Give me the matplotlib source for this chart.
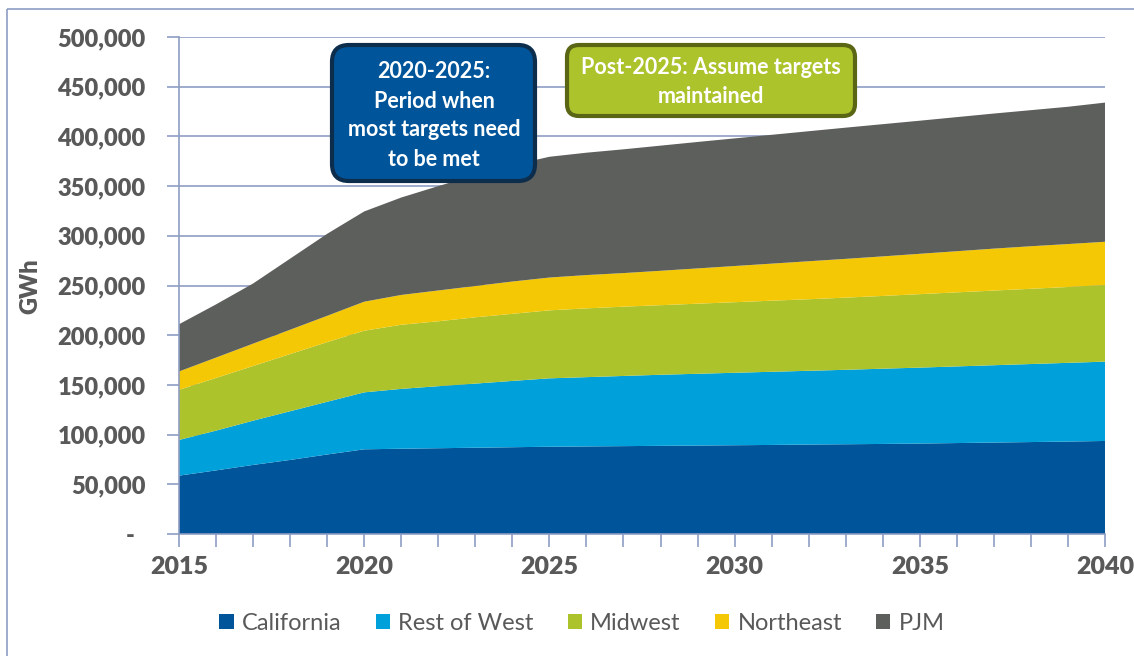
import matplotlib
matplotlib.use('Agg')
import matplotlib.pyplot as plt
from matplotlib.patches import FancyBboxPatch, Rectangle, Patch

plt.rcParams['font.family'] = ['Lato', 'DejaVu Sans']

# GWh by region
years = list(range(2015, 2041))
california = [58700, 64000, 69500, 74500, 80000, 85200, 85800, 86300, 86800, 87300,
              87800, 88100, 88400, 88700, 89000, 89300, 89600, 90000, 90300, 90600,
              91000, 91500, 92000, 92500, 93000, 93600]
rest_of_west = [35900, 40000, 44500, 49000, 53000, 57300, 60200, 62400, 64500, 66700,
                68800, 69700, 70600, 71500, 72200, 72900, 73600, 74200, 74900, 75700,
                76400, 77100, 77800, 78500, 79200, 79800]
midwest = [50400, 53000, 55000, 57500, 60000, 62000, 64500, 65300, 66700, 67500,
           68400, 69200, 69700, 70000, 70500, 71000, 71500, 72000, 72600, 73200,
           73900, 74500, 75100, 75700, 76300, 77100]
northeast = [18500, 20500, 22500, 24500, 26500, 29200, 30000, 31000, 31500, 32500,
             33000, 33500, 33800, 34600, 35500, 36400, 37300, 38200, 39000, 39800,
             40600, 41400, 42200, 42800, 43200, 43500]
pjm = [47500, 53500, 60500, 71500, 82500, 90800, 98000, 105000, 111500, 117000,
       121500, 123100, 124500, 125900, 127200, 128400, 129600, 130800, 132000, 133000,
       133900, 134900, 135900, 136900, 138100, 140000]
regions = ['California', 'Rest of West', 'Midwest', 'Northeast', 'PJM']
colors = ['#00559A', '#00A0DA', '#ADC32C', '#F4C805', '#5D5F5C']

grid_col = '#8E9DC2'
txt_col = '#595959'

fig = plt.figure(figsize=(11.34, 6.56), dpi=100)
ax = fig.add_axes([179/1134, 1-534/656, (1105-179)/1134, (534-37)/656])

ax.stackplot(years, california, rest_of_west, midwest, northeast, pjm,
             colors=colors, linewidth=0)

ax.set_xlim(2015, 2040)
ax.set_ylim(0, 500000)
ax.set_axisbelow(True)
ax.grid(axis='y', color=grid_col, linewidth=1.2)

yt = list(range(0, 500001, 50000))
ax.set_yticks(yt)
ax.set_yticklabels(['-  '] + ['{:,}'.format(v) for v in yt[1:]])
ax.set_xticks(years)
ax.set_xticklabels([str(y) if y % 5 == 0 else '' for y in years])

for s in ['top', 'right']:
    ax.spines[s].set_visible(False)
for s in ['left', 'bottom']:
    ax.spines[s].set_color(grid_col)
    ax.spines[s].set_linewidth(1.2)

ax.tick_params(axis='y', direction='out', length=9, width=1.2, color=grid_col,
               labelcolor=txt_col, labelsize=17, pad=15)
ax.tick_params(axis='x', direction='out', length=9, width=1.2, color=grid_col,
               labelcolor=txt_col, labelsize=18, pad=7)
for lab in ax.get_xticklabels() + ax.get_yticklabels():
    lab.set_fontweight('heavy')

fig.text(30/1134, 1-286/656, 'GWh', rotation=90, ha='center', va='center',
         fontsize=17, fontweight='heavy', color=txt_col)

# overlay in pixel coords for the frame and callout boxes
ov = fig.add_axes([0, 0, 1, 1], zorder=5)
ov.set_xlim(0, 1134)
ov.set_ylim(656, 0)
ov.axis('off')
ov.patch.set_alpha(0)

ov.add_patch(Rectangle((7, 9), 1140, 660, fill=False, edgecolor=grid_col, linewidth=1.2))

ov.add_patch(FancyBboxPatch((332, 45), 203, 136, boxstyle='round,pad=0,rounding_size=17',
                            facecolor='#00559A', edgecolor='#0D2D4C', linewidth=3))
box1 = ['2020-2025:', 'Period when', 'most targets need', 'to be met']
for i, line in enumerate(box1):
    ov.text(434, 72 + i * 29, line, ha='center', va='center', color='white',
            fontsize=15.5, fontweight='bold')

ov.add_patch(FancyBboxPatch((567, 45), 288, 71, boxstyle='round,pad=0,rounding_size=12',
                            facecolor='#ADC32C', edgecolor='#5A6614', linewidth=3))
box2 = ['Post-2025: Assume targets', 'maintained']
for i, line in enumerate(box2):
    ov.text(711, 68 + i * 28.5, line, ha='center', va='center', color='white',
            fontsize=15.5, fontweight='bold')

handles = [Patch(facecolor=c, edgecolor='none') for c in colors]
fig.legend(handles, regions, loc='center', bbox_to_anchor=(582/1134, 1-623/656),
           ncol=5, frameon=False, fontsize=17, handlelength=0.6, handleheight=0.6,
           handletextpad=0.35, columnspacing=1.45, labelcolor=txt_col)

fig.savefig('out.png', dpi=100)
